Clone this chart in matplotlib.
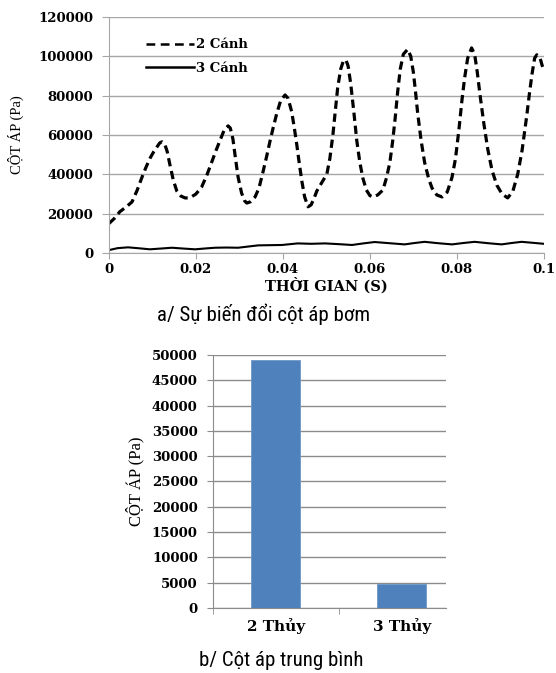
import matplotlib.pyplot as plt
from matplotlib.lines import Line2D

# 2 Cánh pump head over time (s, Pa)
t_2canh = [0.0, 0.0012, 0.0025, 0.004, 0.0053, 0.0065, 0.0075, 0.0085, 0.0094,
           0.0103, 0.011, 0.0117, 0.0122, 0.0128, 0.0134, 0.014, 0.0148, 0.0156,
           0.0165, 0.0175, 0.0182, 0.019, 0.020, 0.0213, 0.0225, 0.0236, 0.0246,
           0.0255, 0.0265, 0.0274, 0.0279, 0.0285, 0.0291, 0.0297, 0.0305,
           0.0312, 0.0317, 0.0325, 0.0336, 0.0345, 0.0354, 0.0362, 0.037,
           0.0378, 0.0386, 0.0395, 0.0405, 0.0412, 0.042, 0.0426, 0.0432,
           0.0438, 0.0444, 0.045, 0.0458, 0.0465, 0.0472, 0.0478, 0.049,
           0.0501, 0.0508, 0.0515, 0.052, 0.0526, 0.0533, 0.0539, 0.0545,
           0.055, 0.0556, 0.0563, 0.057, 0.0577, 0.0584, 0.0592, 0.060,
           0.0607, 0.0618, 0.063, 0.0638, 0.0646, 0.0652, 0.0658, 0.0664,
           0.067, 0.0677, 0.0687, 0.0694, 0.070, 0.0705, 0.071, 0.0718,
           0.0726, 0.0735, 0.0743, 0.0754, 0.0766, 0.0778, 0.0789, 0.0797,
           0.0805, 0.0812, 0.0818, 0.0825, 0.0834, 0.0841, 0.0847, 0.0853,
           0.0862, 0.0871, 0.0881, 0.0892, 0.0904, 0.0917, 0.0929, 0.094,
           0.095, 0.0961, 0.0967, 0.0973, 0.0979, 0.0984, 0.0991, 0.0996, 0.1]
p_2canh = [15000, 17500, 21000, 23500, 26000, 32000, 38000, 43500, 48000,
           51500, 53800, 56000, 56500, 55500, 51500, 45000, 37000, 31500,
           29000, 28000, 28000, 28600, 30000, 33500, 39500, 46000, 52000,
           57000, 62500, 64600, 63500, 58000, 48000, 38500, 30500,
           26500, 25400, 26000, 28500, 33000, 41000, 48500, 56500,
           64000, 71000, 77500, 80300, 78500, 72000, 64000, 55000,
           45000, 36000, 28500, 23500, 24500, 28000, 31500, 36000,
           40000, 48000, 60000, 71000, 84000, 93500, 97500, 98100,
           95000, 86000, 72000, 57000, 46000, 38000, 32000, 29200,
           28500, 29500, 32000, 38000, 46000, 56000, 68000, 82000,
           93500, 101000, 103500, 100000, 92000, 82000, 71000, 57000,
           46000, 38000, 33000, 29500, 28500, 31000, 38500, 48000,
           63000, 78000, 89000, 99000, 104200, 101000, 92000, 81000,
           66000, 53000, 42000, 34500, 30000, 28000, 31500, 40000,
           52000, 70000, 81000, 91000, 99000, 100700, 99500, 95500, 93000]

# 3 Cánh pump head over time (s, Pa)
t_3canh = [0.0, 0.002, 0.0044, 0.007, 0.0094, 0.012, 0.0145, 0.017, 0.0198,
           0.022, 0.0244, 0.027, 0.0297, 0.032, 0.0343, 0.037, 0.0398, 0.0434,
           0.0465, 0.0497, 0.053, 0.0559, 0.0585, 0.0611, 0.0645, 0.068,
           0.0703, 0.0726, 0.0757, 0.0789, 0.0815, 0.0841, 0.0872, 0.0903,
           0.0926, 0.0949, 0.0975, 0.1]
p_3canh = [1500, 2500, 2900, 2400, 1900, 2300, 2700, 2300, 1900,
           2300, 2700, 2800, 2700, 3300, 3900, 4000, 4100, 4900,
           4700, 4900, 4500, 4100, 4900, 5600, 5000, 4400,
           5100, 5700, 5000, 4400, 5100, 5700, 5000, 4400,
           5100, 5700, 5200, 4700]

# mean pump head
bar_labels = ["2 Thủy", "3 Thủy"]
bar_values = [49000, 4700]

tick_font = dict(family="DejaVu Serif", weight="bold", size=9.5)
caption_font = ["Roboto Condensed", "DejaVu Sans"]
grid_col = "#a6a6a6"

fig = plt.figure(figsize=(5.56, 6.73), dpi=100)

# ---- a/ pump head vs time ----
ax1 = fig.add_axes([0.196, 0.624, 0.782, 0.351])
ax1.plot(t_2canh, p_2canh, color="black", lw=2.3, ls=(0, (2.6, 1.5)))
ax1.plot(t_3canh, p_3canh, color="black", lw=1.5)
ax1.set_xlim(0, 0.1)
ax1.set_ylim(0, 120000)
ax1.set_xticks([0, 0.02, 0.04, 0.06, 0.08, 0.1])
ax1.set_xticklabels(["0", "0.02", "0.04", "0.06", "0.08", "0.1"], **tick_font)
ax1.set_yticks(range(0, 120001, 20000))
ax1.set_yticklabels([str(v) for v in range(0, 120001, 20000)], **tick_font)
ax1.grid(axis="y", color=grid_col, lw=1)
ax1.set_axisbelow(True)
for s in ["top", "right"]:
    ax1.spines[s].set_visible(False)
for s in ["left", "bottom"]:
    ax1.spines[s].set_color(grid_col)
ax1.tick_params(axis="x", color=grid_col, length=4, pad=3)
ax1.tick_params(axis="y", color=grid_col, length=5, pad=6.5)
ax1.set_xlabel("THỜI GIAN (S)", fontfamily="DejaVu Serif", fontweight="bold",
               fontsize=10.5, labelpad=1)
ax1.set_ylabel("CỘT ÁP (Pa)", fontfamily="Liberation Serif", fontsize=10.5, labelpad=10)

handles = [Line2D([], [], color="black", lw=1.8, ls=(0, (3.5, 2.2))),
           Line2D([], [], color="black", lw=1.8)]
ax1.legend(handles, ["2 Cánh", "3 Cánh"], loc="upper left", frameon=False,
           bbox_to_anchor=(0.07, 0.937), handlelength=3.6, handletextpad=0.2,
           labelspacing=0.8, borderpad=0,
           prop=dict(family="DejaVu Serif", weight="bold", size=9.5))

fig.text(0.474, 1 - 314 / 673, "a/ Sự biến đổi cột áp bơm", ha="center", va="center",
         family=caption_font, fontsize=15)

# ---- b/ mean pump head ----
ax2 = fig.add_axes([0.383, 0.0966, 0.419, 0.376])
x_pos = range(len(bar_labels))
ax2.bar(x_pos, bar_values, width=0.39, color="#4f81bd", edgecolor="#6d97c9", lw=0.6)
ax2.set_xlim(-0.5, 1.35)
ax2.set_ylim(0, 50000)
ax2.set_xticks(list(x_pos))
ax2.set_xticklabels(bar_labels, family="DejaVu Serif", weight="bold", size=11)
ax2.set_xticks([-0.5, 0.5], minor=True)
ax2.set_yticks(range(0, 50001, 5000))
ax2.set_yticklabels([str(v) for v in range(0, 50001, 5000)], **tick_font)
ax2.grid(axis="y", color="#8c8c8c", lw=1)
ax2.set_axisbelow(True)
for s in ["top", "right"]:
    ax2.spines[s].set_visible(False)
for s in ["left", "bottom"]:
    ax2.spines[s].set_color("#8c8c8c")
ax2.tick_params(axis="x", which="major", length=0, pad=7)
ax2.tick_params(axis="x", which="minor", length=4, color="#8c8c8c")
ax2.tick_params(axis="y", length=4.5, color="#8c8c8c", pad=6.5)
ax2.set_ylabel("CỘT ÁP (Pa)", fontfamily="Liberation Serif", fontsize=12, labelpad=5)

fig.text(0.506, 1 - 660 / 673, "b/ Cột áp trung bình", ha="center", va="center",
         family=caption_font, fontsize=15)

fig.savefig("out.png", dpi=100)
